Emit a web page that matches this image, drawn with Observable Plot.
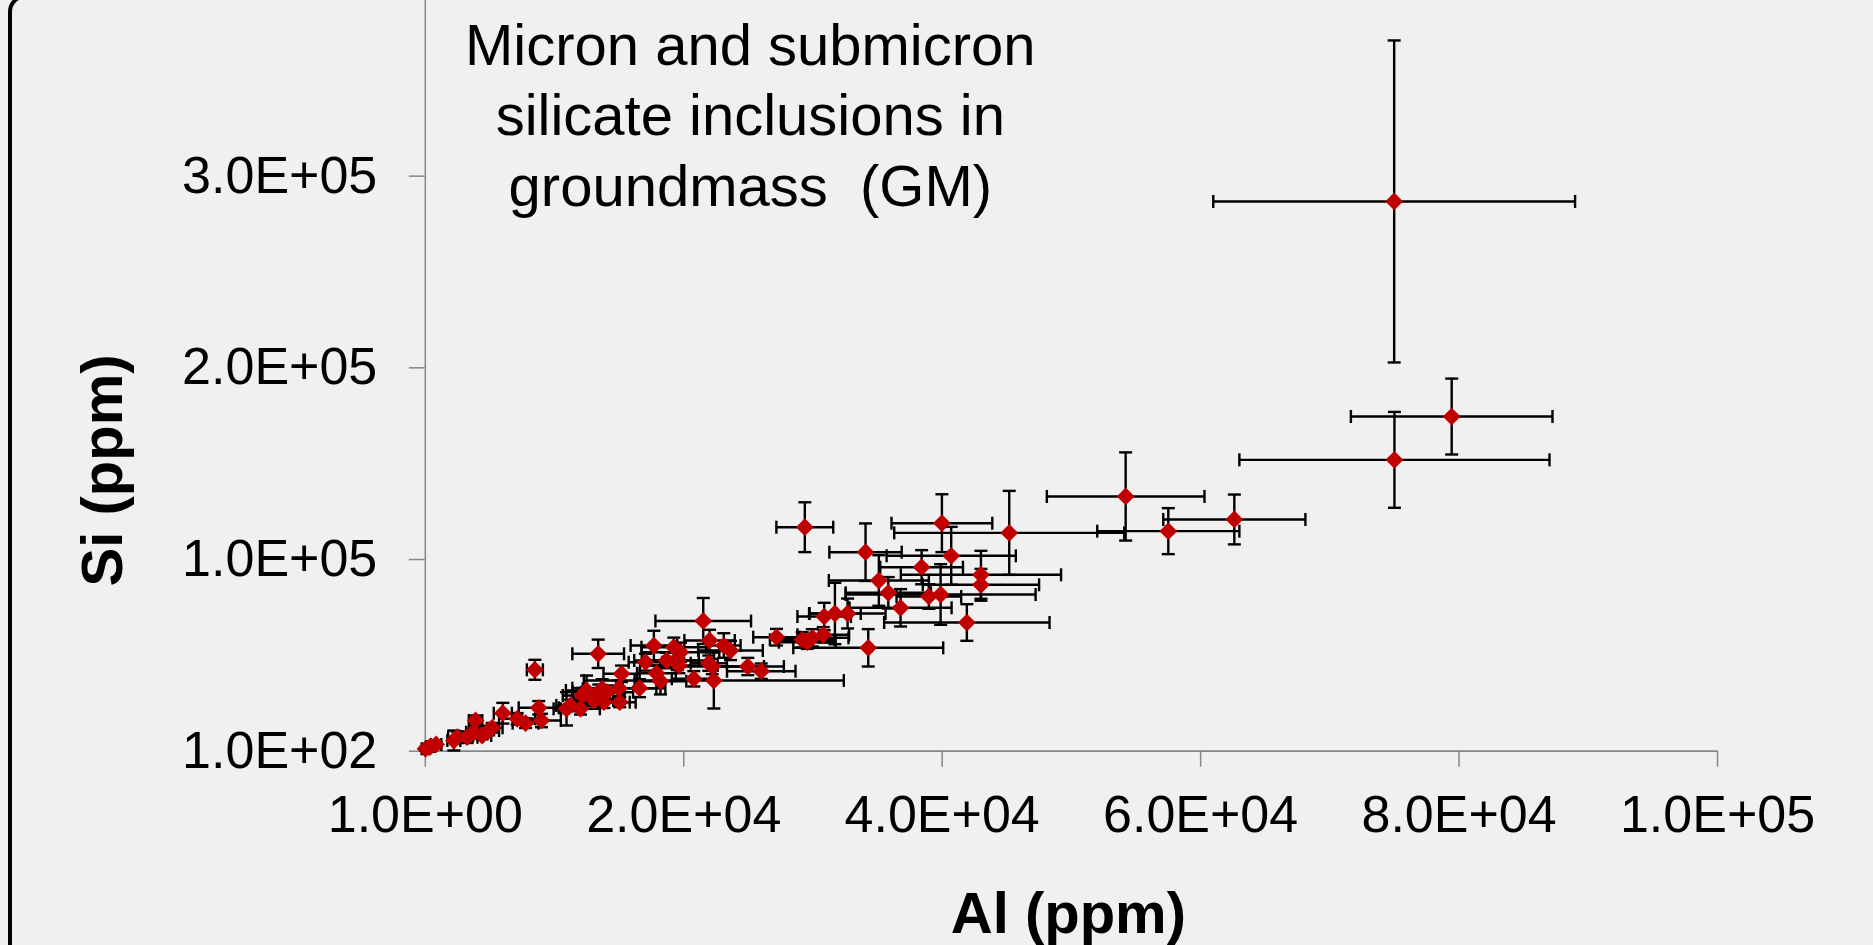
<!DOCTYPE html>
<html>
<head>
<meta charset="utf-8">
<script src="https://cdn.jsdelivr.net/npm/d3@7"></script>
<script src="https://cdn.jsdelivr.net/npm/@observablehq/plot@0.6"></script>
<style>
html, body { margin: 0; padding: 0; background: #f0f0f0; overflow: hidden; }
#wrap { position: relative; width: 1873px; height: 945px; overflow: hidden; background: #f0f0f0; }
#wrap svg { position: absolute; left: 0; top: 0; }
#border { position: absolute; z-index: 2; left: 8px; top: -6px; width: 3000px; height: 2000px;
  border: 4px solid #000; border-radius: 18px; box-sizing: border-box; pointer-events: none; }
</style>
</head>
<body>
<div id="wrap"><div id="border"></div></div>
<script>
// Al (ppm), Si (ppm) and their ± errors
const al = [74980, 79430, 75000, 54200, 62610, 57500, 45190, 39980, 40700, 38410,
  43000, 43000, 39880, 38970, 41910, 29370, 34070, 35100, 35830, 36780,
  34280, 21510, 30870, 31700, 32680, 27180, 29170, 29560, 29950, 30800,
  24960, 26000, 22330, 13380, 17690, 19230, 19750, 22000, 23100, 23620,
  17040, 18670, 19500, 19620, 21940, 22210, 15190, 17890, 18200, 20780,
  16580, 14980, 15050, 12480, 12140, 13430, 13690, 14080, 13040, 13820,
  12010, 10930, 11240, 8480, 8780, 8990, 7110, 7760, 6000, 3890,
  3240, 4400, 4910, 5180, 2210, 2470, 20, 400, 840, 3760];
const si = [286900, 174700, 152100, 133000, 121000, 114900, 114000, 119050, 102040, 96090,
  92130, 86910, 81850, 80810, 67240, 116960, 103920, 89150, 82740, 74910,
  54040, 68030, 70370, 71940, 71940, 59570, 58220, 56970, 59260, 60830,
  44290, 41840, 36980, 50910, 55240, 54360, 51750, 57850, 55240, 52630,
  46530, 47420, 47420, 44810, 46010, 44290, 40480, 40790, 36620, 37870,
  32970, 32970, 25660, 31770, 29160, 30880, 32650, 30880, 26550, 25660,
  22220, 22220, 23950, 42570, 22740, 16120, 17000, 14710, 19920, 16120,
  7400, 8290, 10900, 12310, 5680, 7400, 1350, 2550, 3600, 10010];
const alErr = [14000, 7800, 12000, 6100, 5500, 5500, 8900, 3900, 5000, 3200,
  6200, 4500, 7350, 2500, 6400, 2200, 2800, 3870, 3300, 3950,
  5800, 3700, 2070, 2000, 2940, 1800, 2500, 2200, 2800, 2000,
  2790, 2650, 10060, 2000, 1800, 2500, 3000, 1950, 1300, 2500,
  1300, 2500, 2500, 3000, 1400, 4000, 1400, 1500, 2000, 1700,
  1300, 3600, 1230, 1600, 1500, 2000, 1500, 2000, 1500, 2000,
  1500, 1000, 1100, 620, 1550, 1500, 1400, 1000, 700, 520,
  800, 700, 800, 800, 500, 700, 300, 300, 400, 600];
const siErr = [84000, 19800, 25000, 23000, 13000, 12000, 21900, 15100, 15100, 8900,
  12500, 8300, 15800, 6400, 9550, 13000, 15000, 13200, 8200, 9750,
  9750, 12000, 7150, 16000, 7800, 4330, 4000, 3500, 4500, 4000,
  4500, 4000, 14600, 7400, 7700, 5000, 5000, 5600, 6400, 5000,
  4400, 4000, 5000, 4000, 4000, 4000, 4300, 4000, 6900, 4000,
  4700, 4000, 2600, 7800, 4000, 4000, 5000, 3500, 3000, 3000,
  3000, 8700, 3000, 5200, 3500, 3500, 3000, 2500, 5400, 2600,
  3000, 2000, 2500, 2500, 5200, 3000, 1000, 1000, 1200, 2000];

const xTicks = [1, 20001, 40001, 60001, 80001, 100001];
const xTickLabels = ["1.0E+00", "2.0E+04", "4.0E+04", "6.0E+04", "8.0E+04", "1.0E+05"];
const yTicks = [100, 100100, 200100, 300100];
const yTickLabels = ["1.0E+02", "1.0E+05", "2.0E+05", "3.0E+05"];
const titleLines = ["Micron and submicron", "silicate inclusions in", "groundmass\u00a0 (GM)"];
const xLabel = "Al (ppm)";
const yLabel = "Si (ppm)";

const data = al.map((a, i) => ({al: a, si: si[i], ae: alErr[i], se: siErr[i]}));
const hcap = {draw(ctx) { ctx.moveTo(-6.5, 0); ctx.lineTo(6.5, 0); }};
const vcap = {draw(ctx) { ctx.moveTo(0, -6.5); ctx.lineTo(0, 6.5); }};
const font = "'Liberation Sans', Arial, sans-serif";
const axisGray = "#878787";
const bar = {stroke: "#000", strokeWidth: 2.4};
const titleStyle = {frameAnchor: "top-left", dx: 325, lineAnchor: "top", textAnchor: "middle", fontSize: 58, fontFamily: font, fill: "#000"};

const chart = Plot.plot({
  width: 1873,
  height: 945,
  marginLeft: 424.8,
  marginRight: 156,
  marginTop: 0,
  marginBottom: 194.3,
  style: {background: "#f0f0f0", fontFamily: font, color: "#000", overflow: "visible"},
  x: {domain: [1, 100001]},
  y: {domain: [100, 391740]},
  marks: [
    Plot.ruleY([yTicks[0]], {stroke: axisGray, strokeWidth: 1.8}),
    Plot.ruleX([xTicks[0]], {stroke: axisGray, strokeWidth: 1.5}),
    Plot.axisX(xTicks, {tickSize: 16, tickPadding: 28, stroke: axisGray, strokeWidth: 1.5, color: "#000",
      fontSize: 52, fontFamily: font, label: null,
      tickFormat: d => xTickLabels[xTicks.indexOf(d)]}),
    Plot.axisY(yTicks, {tickSize: 16, tickPadding: 32, stroke: axisGray, strokeWidth: 1.5, color: "#000",
      fontSize: 52, fontFamily: font, label: null,
      tickFormat: d => yTickLabels[yTicks.indexOf(d)]}),
    // error bars
    Plot.ruleY(data, {y: "si", x1: d => d.al - d.ae, x2: d => d.al + d.ae, ...bar}),
    Plot.ruleX(data, {x: "al", y1: d => d.si - d.se, y2: d => d.si + d.se, ...bar}),
    Plot.dot(data, {x: d => d.al - d.ae, y: "si", symbol: vcap, r: 1, fill: "none", ...bar}),
    Plot.dot(data, {x: d => d.al + d.ae, y: "si", symbol: vcap, r: 1, fill: "none", ...bar}),
    Plot.dot(data, {x: "al", y: d => d.si - d.se, symbol: hcap, r: 1, fill: "none", ...bar}),
    Plot.dot(data, {x: "al", y: d => d.si + d.se, symbol: hcap, r: 1, fill: "none", ...bar}),
    // markers
    Plot.dot(data, {x: "al", y: "si", symbol: "diamond2", r: 8, fill: "#c00000", stroke: "none"}),
    // annotation
    Plot.text([titleLines[0]], {...titleStyle, dy: 23}),
    Plot.text([titleLines[1]], {...titleStyle, dy: 93}),
    Plot.text([titleLines[2]], {...titleStyle, dy: 164}),
    // axis titles
    Plot.text([xLabel], {frameAnchor: "bottom", dx: -3, dy: 141, lineAnchor: "top", textAnchor: "middle", fontSize: 58, fontWeight: "bold", fontFamily: font, fill: "#000"}),
    Plot.text([yLabel], {frameAnchor: "left", dx: -321.8, dy: 94.6, rotate: -90, textAnchor: "middle", fontSize: 58, fontWeight: "bold", fontFamily: font, fill: "#000"})
  ]
});
document.getElementById("wrap").insertBefore(chart, document.getElementById("border"));
</script>
</body>
</html>
